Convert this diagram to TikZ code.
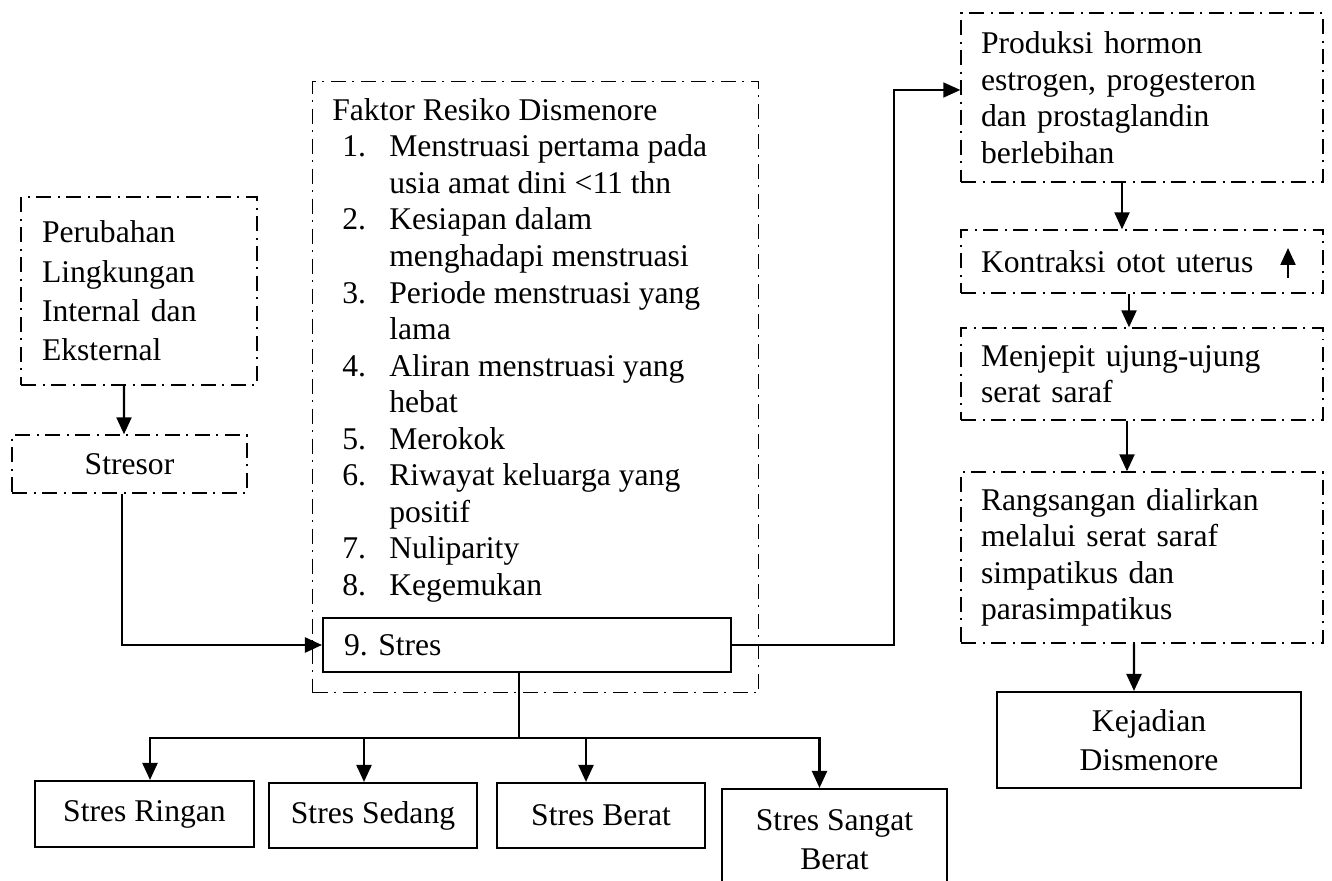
\documentclass[tikz,border=0pt]{standalone}
\usepackage{fontspec}
\setmainfont{Liberation Serif}
\usetikzlibrary{arrows.meta, positioning}

\tikzset{
  txt/.style={font=\fontsize{18}{20.8}\selectfont},
  wide/.style={font=\fontsize{18}{22.4}\selectfont},
  dbox/.style={draw, line width=0.8pt, dash pattern=on 0.3cm off 0.13cm on 0.04cm off 0.13cm, txt},
  rbox/.style={dbox, align=left, text width=6.44cm, inner xsep=0.4cm},
  sbox/.style={draw, line width=1.2pt, txt, align=center},
  arr/.style={-{Triangle[length=0.34cm,width=0.3cm]}, line width=1.3pt}
}
\newcommand{\litem}[2]{\hspace*{0.2cm}\makebox[0.94cm][l]{#1}#2}
\newcommand{\lcont}[1]{\hspace*{1.14cm}#1}

\begin{document}
\frenchspacing
\begin{tikzpicture}[x=0.02cm, y=-0.02cm]
  \useasboundingbox (0,0) rectangle (1332,881);

  \node[dbox, wide, align=left, text width=3.88cm, inner xsep=0.42cm, minimum height=3.76cm] (peru) at (139,291) {Perubahan\\ Lingkungan\\ Internal dan\\ Eksternal};
  \node[dbox, align=center, minimum width=4.7cm, minimum height=1.16cm] (stresor) at (129.5,464) {Stresor};

  \node[dbox, inner sep=0pt, minimum width=8.92cm, minimum height=12.22cm, anchor=north west] (faktorbox) at (312,81) {};
  \node[txt, align=left, inner sep=0pt, anchor=north west] (faktortext) at (332,98) {Faktor Resiko Dismenore\\
    \litem{1.}{Menstruasi pertama pada}\\ \lcont{usia amat dini <11 thn}\\
    \litem{2.}{Kesiapan dalam}\\ \lcont{menghadapi menstruasi}\\
    \litem{3.}{Periode menstruasi yang}\\ \lcont{lama}\\
    \litem{4.}{Aliran menstruasi yang}\\ \lcont{hebat}\\
    \litem{5.}{Merokok}\\
    \litem{6.}{Riwayat keluarga yang}\\ \lcont{positif}\\
    \litem{7.}{Nuliparity}\\
    \litem{8.}{Kegemukan}};
  \node[sbox, align=left, text width=7.32cm, inner xsep=0.42cm, minimum height=1.08cm] (stres) at (527,645) {9. Stres};

  \node[sbox, minimum width=4.38cm, minimum height=1.32cm] (ringan) at (144.5,814) {Stres Ringan};
  \node[sbox, minimum width=4.16cm, minimum height=1.3cm] (sedang) at (373,815.5) {Stres Sedang};
  \node[sbox, minimum width=4.16cm, minimum height=1.3cm] (berat) at (601,815.5) {Stres Berat};
  \node[sbox, wide, minimum width=4.5cm, minimum height=2.04cm] (sangat) at (834.5,840) {Stres Sangat\\ Berat};

  \node[rbox, minimum height=3.38cm] (prod) at (1142,97.5) {Produksi hormon\\ estrogen, progesteron\\ dan prostaglandin\\ berlebihan};
  \node[rbox, minimum height=1.26cm] (kontr) at (1142,261.5) {Kontraksi otot uterus};
  \node[rbox, minimum height=1.84cm] (menj) at (1142,374) {Menjepit ujung-ujung\\ serat saraf};
  \node[rbox, minimum height=3.42cm] (rang) at (1142,557.5) {Rangsangan dialirkan\\ melalui serat saraf\\ simpatikus dan\\ parasimpatikus};
  \node[sbox, wide, minimum width=6.08cm, minimum height=1.92cm] (kej) at (1149,740) {Kejadian\\ Dismenore};

  \draw[arr] ([xshift=-0.3cm]peru.south) -- ([xshift=-0.11cm]stresor.north);
  \draw[arr] ([xshift=-0.15cm]stresor.south) |- (stres.west);
  \draw[arr, line width=0.9pt] (stres.east) -- ++(162,0) |- ([yshift=0.15cm]prod.west);

  \draw[arr] ([xshift=-0.4cm]prod.south) -- ([xshift=-0.4cm]kontr.north);
  \draw[arr] ([xshift=-0.26cm]kontr.south) -- ([xshift=-0.26cm]menj.north);
  \draw[arr] ([xshift=-0.3cm]menj.south) -- ([xshift=-0.3cm]rang.north);
  \draw[arr] ([xshift=-0.16cm]rang.south) -- ([xshift=-0.3cm]kej.north);
  \coordinate (naik1) at (1288,278);
  \coordinate (naik2) at (1288,248);
  \draw[arr] (naik1) -- (naik2);

  \coordinate (cabang) at (519,738);
  \draw[line width=0.9pt] (stres.south -| cabang) -- (cabang);
  \foreach \b/\s in {ringan/0.11, sedang/-0.18, berat/-0.3, sangat/-0.3}
    \draw[arr] (cabang) -| ([xshift=\s cm]\b.north);
\end{tikzpicture}
\end{document}
